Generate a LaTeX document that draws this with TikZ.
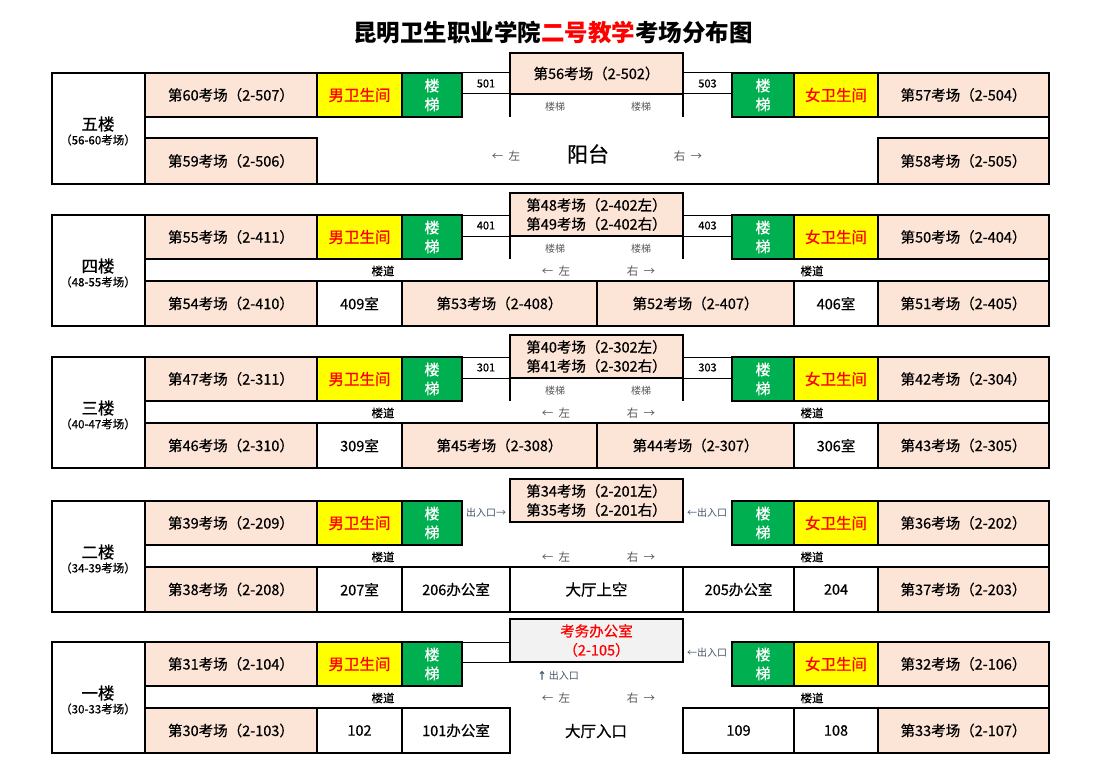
\documentclass[tikz,border=0pt]{standalone}
\usepackage{fontspec}
\setmainfont{Noto Sans CJK SC}
\newfontfamily\medfont{Noto Sans CJK SC}[FakeBold=0.6]
\definecolor{peach}{HTML}{FCE4D6}
\definecolor{wcyel}{HTML}{FFFF00}
\definecolor{stgreen}{HTML}{00B050}
\definecolor{hgray}{HTML}{F2F2F2}
\definecolor{lbgray}{HTML}{595959}
\definecolor{exblue}{HTML}{44546A}
\newcommand\roombox[7]{%
  \pgfmathsetmacro\rbcx{(#2+#4)/2}%
  \pgfmathsetmacro\rbcy{(#3+#5)/2}%
  \pgfmathsetmacro\rbw{#4-#2}%
  \pgfmathsetmacro\rbh{#5-#3}%
  \node[cell,#6,minimum width=\rbw pt,minimum height=\rbh pt] (#1) at (\rbcx,\rbcy) {#7};}
\tikzset{
  cell/.style={draw=black,line width=2pt,inner sep=0pt,outer sep=0pt,align=center,
    font=\medfont\fontsize{14.5}{19}\selectfont},
  exam/.style={fill=peach},
  plain/.style={fill=white},
  wc/.style={fill=wcyel,text=red,font=\medfont\fontsize{15.5}{18}\selectfont},
  stair/.style={fill=stgreen,text=white,font=\medfont\fontsize{15}{19}\selectfont},
  smallcell/.style={line width=1pt,fill=white,font=\medfont\fontsize{11}{13}\selectfont},
  flab/.style={fill=white},
  bigroom/.style={fill=white,font=\medfont\fontsize{15.5}{18}\selectfont},
  ftitle/.style={inner sep=0pt,font=\medfont\fontsize{16.5}{18}\selectfont},
  fsub/.style={inner sep=0pt,font=\medfont\fontsize{11.5}{13}\selectfont},
  corrtext/.style={inner sep=0pt,font=\medfont\fontsize{11.5}{13}\selectfont},
  dirtext/.style={inner sep=0pt,text=lbgray,font=\fontsize{11.5}{13}\selectfont},
  sttext/.style={inner sep=0pt,text=lbgray,font=\fontsize{10}{12}\selectfont},
  extext/.style={inner sep=0pt,text=exblue,font=\fontsize{10}{12}\selectfont},
  wall/.style={line width=2pt},
}
\begin{document}
\begin{tikzpicture}[x=1pt,y=-1pt]
\useasboundingbox[fill=white] (0,0) rectangle (1110,781);
\node[inner sep=0pt,font=\fontsize{23.5}{26}\selectfont\bfseries] (title) at (553,33)
  {昆明卫生职业学院\textcolor{red}{二号教学}考场分布图};

% ---------------- Floor 5 ----------------
\begin{scope}[shift={(0,73)}]
\roombox{f5n1}{462}{0}{510}{21}{smallcell}{501}
\roombox{f5n2}{683}{0}{732}{21}{smallcell}{503}
\roombox{f5lab}{52}{0}{145}{111}{flab}{}
\node[ftitle] (f5t) at (98,51) {五楼};
\node[fsub] (f5s) at (98,67) {（56-60考场）};
\roombox{f5a}{145}{0}{317}{44}{exam}{第60考场（2-507）}
\roombox{f5mw}{317}{0}{402}{44}{wc}{男卫生间}
\roombox{f5ls}{402}{0}{462}{44}{stair}{楼\\梯}
\roombox{f5c}{510}{-20}{683}{21}{exam}{第56考场（2-502）}
\roombox{f5rs}{732}{0}{794}{44}{stair}{楼\\梯}
\roombox{f5fw}{794}{0}{878}{44}{wc}{女卫生间}
\roombox{f5b}{878}{0}{1049}{44}{exam}{第57考场（2-504）}
\roombox{f5d}{145}{65}{317}{111}{exam}{第59考场（2-506）}
\roombox{f5e}{878}{65}{1049}{111}{exam}{第58考场（2-505）}
\draw[wall] (f5c.south west) -- ++(0,23);
\draw[wall] (f5c.south east) -- ++(0,23);
\draw[wall] (f5d.south east) -- (f5e.south west);
\draw[wall] (f5b.south east) -- (f5e.north east);
\node[sttext] (f5st1) at (555,34) {楼梯};
\node[sttext] (f5st2) at (641,34) {楼梯};
\node[dirtext] (f5l) at (506,83) {←\ \ 左};
\node[inner sep=0pt,font=\medfont\fontsize{21}{24}\selectfont] (f5y) at (588,81) {阳台};
\node[dirtext] (f5r) at (688,83) {右\ \ →};
\end{scope}

% ---------------- Floor 4 ----------------
\begin{scope}[shift={(0,215)}]
\roombox{f4n1}{462}{0}{510}{21}{smallcell}{401}
\roombox{f4n2}{683}{0}{732}{21}{smallcell}{403}
\roombox{f4lab}{52}{0}{145}{111}{flab}{}
\node[ftitle] (f4t) at (98,51) {四楼};
\node[fsub] (f4s) at (98,67) {（48-55考场）};
\roombox{f4a}{145}{0}{317}{44}{exam}{第55考场（2-411）}
\roombox{f4mw}{317}{0}{402}{44}{wc}{男卫生间}
\roombox{f4ls}{402}{0}{462}{44}{stair}{楼\\梯}
\roombox{f4c}{510}{-22}{683}{21}{exam}{第48考场（2-402左）\\第49考场（2-402右）}
\roombox{f4rs}{732}{0}{794}{44}{stair}{楼\\梯}
\roombox{f4fw}{794}{0}{878}{44}{wc}{女卫生间}
\roombox{f4b}{878}{0}{1049}{44}{exam}{第50考场（2-404）}
\roombox{f4d}{145}{66}{317}{111}{exam}{第54考场（2-410）}
\roombox{f4e}{317}{66}{402}{111}{plain}{409室}
\roombox{f4f}{402}{66}{597}{111}{exam}{第53考场（2-408）}
\roombox{f4g}{597}{66}{794}{111}{exam}{第52考场（2-407）}
\roombox{f4h}{794}{66}{878}{111}{plain}{406室}
\roombox{f4i}{878}{66}{1049}{111}{exam}{第51考场（2-405）}
\draw[wall] (f4c.south west) -- ++(0,23);
\draw[wall] (f4c.south east) -- ++(0,23);
\draw[wall] (f4b.south east) -- (f4i.north east);
\node[sttext] (f4st1) at (555,34) {楼梯};
\node[sttext] (f4st2) at (641,34) {楼梯};
\node[corrtext] (f4cl) at (383,56) {楼道};
\node[corrtext] (f4cr) at (812,56) {楼道};
\node[dirtext] (f4l) at (556,56) {←\ \ 左};
\node[dirtext] (f4r) at (641,56) {右\ \ →};
\end{scope}

% ---------------- Floor 3 ----------------
\begin{scope}[shift={(0,357)}]
\roombox{f3n1}{462}{0}{510}{21}{smallcell}{301}
\roombox{f3n2}{683}{0}{732}{21}{smallcell}{303}
\roombox{f3lab}{52}{0}{145}{111}{flab}{}
\node[ftitle] (f3t) at (98,51) {三楼};
\node[fsub] (f3s) at (98,67) {（40-47考场）};
\roombox{f3a}{145}{0}{317}{44}{exam}{第47考场（2-311）}
\roombox{f3mw}{317}{0}{402}{44}{wc}{男卫生间}
\roombox{f3ls}{402}{0}{462}{44}{stair}{楼\\梯}
\roombox{f3c}{510}{-22}{683}{21}{exam}{第40考场（2-302左）\\第41考场（2-302右）}
\roombox{f3rs}{732}{0}{794}{44}{stair}{楼\\梯}
\roombox{f3fw}{794}{0}{878}{44}{wc}{女卫生间}
\roombox{f3b}{878}{0}{1049}{44}{exam}{第42考场（2-304）}
\roombox{f3d}{145}{66}{317}{111}{exam}{第46考场（2-310）}
\roombox{f3e}{317}{66}{402}{111}{plain}{309室}
\roombox{f3f}{402}{66}{597}{111}{exam}{第45考场（2-308）}
\roombox{f3g}{597}{66}{794}{111}{exam}{第44考场（2-307）}
\roombox{f3h}{794}{66}{878}{111}{plain}{306室}
\roombox{f3i}{878}{66}{1049}{111}{exam}{第43考场（2-305）}
\draw[wall] (f3c.south west) -- ++(0,23);
\draw[wall] (f3c.south east) -- ++(0,23);
\draw[wall] (f3b.south east) -- (f3i.north east);
\node[sttext] (f3st1) at (555,34) {楼梯};
\node[sttext] (f3st2) at (641,34) {楼梯};
\node[corrtext] (f3cl) at (383,56) {楼道};
\node[corrtext] (f3cr) at (812,56) {楼道};
\node[dirtext] (f3l) at (556,56) {←\ \ 左};
\node[dirtext] (f3r) at (641,56) {右\ \ →};
\end{scope}

% ---------------- Floor 2 ----------------
\begin{scope}[shift={(0,501)}]
\roombox{f2lab}{52}{0}{145}{111}{flab}{}
\node[ftitle] (f2t) at (98,51) {二楼};
\node[fsub] (f2s) at (98,67) {（34-39考场）};
\roombox{f2a}{145}{0}{317}{44}{exam}{第39考场（2-209）}
\roombox{f2mw}{317}{0}{402}{44}{wc}{男卫生间}
\roombox{f2ls}{402}{0}{462}{44}{stair}{楼\\梯}
\roombox{f2c}{510}{-22}{683}{21}{exam}{第34考场（2-201左）\\第35考场（2-201右）}
\roombox{f2rs}{732}{0}{794}{44}{stair}{楼\\梯}
\roombox{f2fw}{794}{0}{878}{44}{wc}{女卫生间}
\roombox{f2b}{878}{0}{1049}{44}{exam}{第36考场（2-202）}
\roombox{f2d}{145}{66}{317}{111}{exam}{第38考场（2-208）}
\roombox{f2e}{317}{66}{402}{111}{plain}{207室}
\roombox{f2f}{402}{66}{510}{111}{plain}{206办公室}
\roombox{f2g}{510}{66}{683}{111}{bigroom}{大厅上空}
\roombox{f2h}{683}{66}{794}{111}{plain}{205办公室}
\roombox{f2i}{794}{66}{878}{111}{plain}{204}
\roombox{f2j}{878}{66}{1049}{111}{exam}{第37考场（2-203）}
\draw[wall] (f2b.south east) -- (f2j.north east);
\node[extext] (f2e1) at (486,12) {出入口→};
\node[extext] (f2e2) at (707,12) {←出入口};
\node[corrtext] (f2cl) at (383,56) {楼道};
\node[corrtext] (f2cr) at (812,56) {楼道};
\node[dirtext] (f2l) at (556,56) {←\ \ 左};
\node[dirtext] (f2r) at (641,56) {右\ \ →};
\end{scope}

% ---------------- Floor 1 ----------------
\begin{scope}[shift={(0,642)}]
\roombox{f1n1}{462}{0}{510}{20}{smallcell}{}
\roombox{f1lab}{52}{0}{145}{111}{flab}{}
\node[ftitle] (f1t) at (98,51) {一楼};
\node[fsub] (f1s) at (98,67) {（30-33考场）};
\roombox{f1a}{145}{0}{317}{44}{exam}{第31考场（2-104）}
\roombox{f1mw}{317}{0}{402}{44}{wc}{男卫生间}
\roombox{f1ls}{402}{0}{462}{44}{stair}{楼\\梯}
\roombox{f1c}{510}{-23}{683}{20}{fill=hgray,text=red,font=\medfont\fontsize{14.5}{19}\selectfont}{考务办公室\\（2-105）}
\roombox{f1rs}{732}{0}{794}{44}{stair}{楼\\梯}
\roombox{f1fw}{794}{0}{878}{44}{wc}{女卫生间}
\roombox{f1b}{878}{0}{1049}{44}{exam}{第32考场（2-106）}
\roombox{f1d}{145}{66}{317}{111}{exam}{第30考场（2-103）}
\roombox{f1e}{317}{66}{402}{111}{plain}{102}
\roombox{f1f}{402}{66}{510}{111}{plain}{101办公室}
\node[inner sep=0pt,font=\medfont\fontsize{15.5}{18}\selectfont] (f1g) at (596,89) {大厅入口};
\roombox{f1h}{683}{66}{794}{111}{plain}{109}
\roombox{f1i}{794}{66}{878}{111}{plain}{108}
\roombox{f1j}{878}{66}{1049}{111}{exam}{第33考场（2-107）}
\draw[wall] (f1b.south east) -- (f1j.north east);
\node[extext] (f1e2) at (707,11) {←出入口};
\node[extext] (f1e1) at (558,34) {{\bfseries ↑}\,出入口};
\node[corrtext] (f1cl) at (383,56) {楼道};
\node[corrtext] (f1cr) at (812,56) {楼道};
\node[dirtext] (f1l) at (556,56) {←\ \ 左};
\node[dirtext] (f1r) at (641,56) {右\ \ →};
\end{scope}
\end{tikzpicture}
\end{document}
